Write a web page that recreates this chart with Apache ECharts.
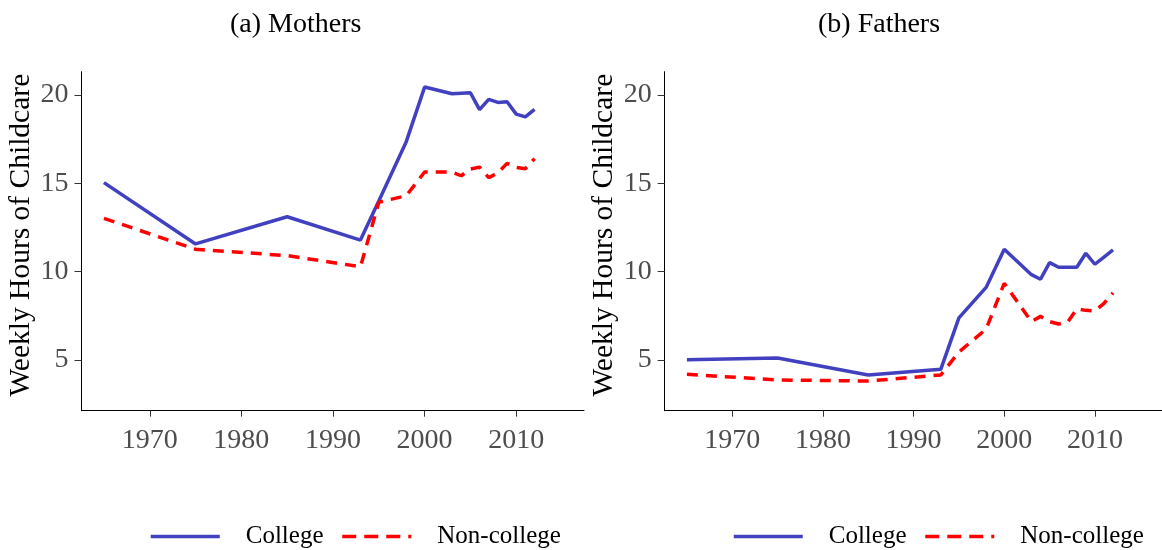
<!DOCTYPE html>
<html>
<head>
<meta charset="utf-8">
<script src="https://cdn.jsdelivr.net/npm/echarts@6/dist/echarts.min.js"></script>
<style>
  html, body { margin: 0; padding: 0; background: #fff; }
  #chart { width: 1162px; height: 550px; }
</style>
</head>
<body>
<div id="chart"></div>
<script>
// survey years
var years = [1965, 1975, 1985, 1993, 1995, 1998, 2000, 2003, 2004, 2005, 2006, 2007, 2008, 2009, 2010, 2011, 2012];

// (a) mothers
var motherCollege    = [15.04, 11.57, 13.11, 11.79, 14.0, 17.36, 20.45, 20.07, 20.1, 20.13, 19.17, 19.75, 19.58, 19.62, 18.92, 18.76, 19.19];
var motherNonCollege = [13.02, 11.27, 10.91, 10.28, 13.93, 14.3, 15.64, 15.64, 15.43, 15.81, 15.92, 15.32, 15.6, 16.13, 15.9, 15.83, 16.4];

// (b) fathers
var fatherCollege    = [5.02, 5.11, 4.15, 4.47, 7.38, 9.11, 11.27, 9.83, 9.57, 10.51, 10.25, 10.25, 10.25, 11.04, 10.42, 10.83, 11.23];
var fatherNonCollege = [4.19, 3.87, 3.81, 4.15, 5.45, 6.75, 9.34, 7.17, 7.47, 7.17, 7.04, 7.14, 7.89, 7.81, 7.78, 8.2, 8.8];

var xTicks = [1970, 1980, 1990, 2000, 2010];
var yTicks = [5, 10, 15, 20];
var seriesNames = ['College', 'Non-college'];
var titles = ['(a) Mothers', '(b) Fathers'];
var yName = 'Weekly Hours of Childcare';

var FONT = 'Liberation Serif';
var BLUE = '#4040C0';
var RED = '#FF0000';

function pairs(vals) {
  return years.map(function (y, i) { return [y, vals[i]]; });
}

function xAxis(idx) {
  return {
    type: 'value', gridIndex: idx, min: 1962.55, max: 2017.4,
    axisLine: { show: true, lineStyle: { color: '#000', width: 1 } },
    axisTick: { show: true, length: 6, lineStyle: { color: '#333' }, customValues: xTicks },
    axisLabel: {
      customValues: xTicks, color: '#4d4d4d', fontFamily: FONT, fontSize: 28, margin: 16,
      formatter: function (v) { return String(v); }
    },
    splitLine: { show: false }
  };
}

function yAxis(idx) {
  return {
    type: 'value', gridIndex: idx, min: 2.13, max: 21.32,
    name: yName, nameLocation: 'middle', nameGap: 45, nameRotate: 90,
    nameTextStyle: { color: '#000', fontFamily: FONT, fontSize: 29.5, padding: [0, 0, 0, 12] },
    axisLine: { show: true, lineStyle: { color: '#000', width: 1 } },
    axisTick: { show: true, length: 7, lineStyle: { color: '#333' }, customValues: yTicks },
    axisLabel: { customValues: yTicks, color: '#4d4d4d', fontFamily: FONT, fontSize: 28, margin: 13 },
    splitLine: { show: false }
  };
}

function line(name, idx, vals, color, dashed) {
  return {
    name: name, type: 'line', xAxisIndex: idx, yAxisIndex: idx,
    data: pairs(vals), symbol: 'none', animation: false,
    lineStyle: { color: color, width: 3.5, type: dashed ? [11, 8] : 'solid' },
    itemStyle: { color: color }
  };
}

function legend(left) {
  return {
    data: [
      { name: seriesNames[0], lineStyle: { width: 3.5, type: 'solid' } },
      { name: seriesNames[1], lineStyle: { width: 3.5, type: [14, 8] } }
    ],
    left: left, top: 524, orient: 'horizontal', padding: 0,
    itemWidth: 69, itemHeight: 14, itemGap: 17,
    itemStyle: { opacity: 0 },
    textStyle: { fontFamily: FONT, fontSize: 25, color: '#000', padding: [0, 0, 0, 21] }
  };
}

var chart = echarts.init(document.getElementById('chart'));
chart.setOption({
  backgroundColor: '#fff',
  title: [
    { text: titles[0], left: 225, top: 6, textStyle: { fontFamily: FONT, fontSize: 28, fontWeight: 'normal', color: '#000' } },
    { text: titles[1], left: 813, top: 6, textStyle: { fontFamily: FONT, fontSize: 28, fontWeight: 'normal', color: '#000' } }
  ],
  legend: [legend(149), legend(732)],
  grid: [
    { left: 81.5, top: 71.7, width: 502.5, height: 339 },
    { left: 664.7, top: 71.7, width: 504, height: 339 }
  ],
  xAxis: [xAxis(0), xAxis(1)],
  yAxis: [yAxis(0), yAxis(1)],
  series: [
    line(seriesNames[0], 0, motherCollege, BLUE, false),
    line(seriesNames[1], 0, motherNonCollege, RED, true),
    line(seriesNames[0], 1, fatherCollege, BLUE, false),
    line(seriesNames[1], 1, fatherNonCollege, RED, true)
  ]
});
</script>
</body>
</html>
